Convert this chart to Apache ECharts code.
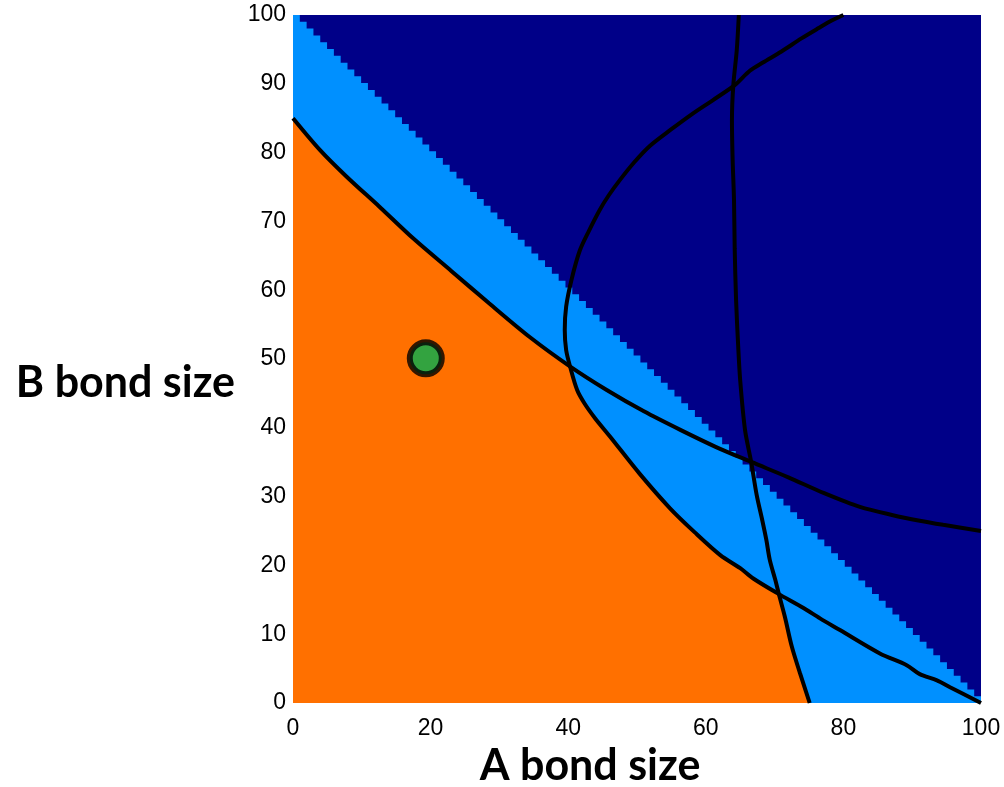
<!DOCTYPE html>
<html>
<head>
<meta charset="utf-8">
<script src="https://cdn.jsdelivr.net/npm/echarts@6/dist/echarts.min.js"></script>
<style>
  html, body { margin: 0; padding: 0; background: #ffffff; }
  #chart { width: 1004px; height: 787px; }
</style>
</head>
<body>
<div id="chart"></div>
<script>
// Tick labels on each axis
const xTicks = [0, 20, 40, 60, 80, 100];
const yTicks = [0, 10, 20, 30, 40, 50, 60, 70, 80, 90, 100];

// Highest light-blue row in each of the 101 grid columns
const blueTop = [
  100, 99, 98, 97, 96, 95, 94, 93, 92, 91,
  90, 89, 88, 87, 86, 85, 84, 83, 82, 81,
  80, 79, 78, 77, 76, 75, 74, 73, 72, 71,
  70, 69, 68, 67, 66, 65, 64, 63, 62, 61,
  60, 59, 58, 57, 56, 55, 54, 53, 52, 51,
  50, 49, 48, 47, 46, 45, 44, 43, 42, 41,
  40, 39, 38, 37, 36, 35, 34, 33, 32, 31,
  30, 29, 28, 27, 26, 25, 24, 23, 22, 21,
  20, 19, 18, 17, 16, 15, 14, 13, 12, 11,
  10, 9, 8, 7, 6, 5, 4, 3, 2, 1,
  0
];

// Boundary curves (A bond size, B bond size)
const curveL1 = [
  [0, 85.0], [3.9, 80.4], [7.8, 76.5], [12.6, 72.1], [17.5, 67.5], [23, 62.8],
  [28.5, 58.1], [34.4, 53.2], [40.3, 48.9], [45.6, 45.5], [51, 42.4], [56.3, 39.7],
  [61.5, 37.2], [66.7, 35.0], [72, 32.8], [77.2, 30.5], [82.4, 28.5], [87.2, 27.3],
  [91.1, 26.5], [94.5, 25.9], [100, 25.0]
];
const curveB = [
  [80.0, 100], [78.3, 99.2], [76.4, 98.1], [73.9, 96.6], [71.0, 94.7], [68.3, 93.1],
  [66.4, 91.9], [64.2, 89.8], [61.0, 87.6], [58.0, 85.6], [55.0, 83.4], [51.9, 81.0],
  [49.6, 78.6], [47.5, 76.0], [45.9, 73.8], [44.6, 71.7], [43.0, 68.6], [41.7, 65.8],
  [40.5, 61.6], [39.7, 57.6], [39.5, 54.2], [39.7, 51.3], [40.3, 48.8], [41.3, 45.5],
  [42.4, 43.5], [43.9, 41.4], [46.1, 38.7], [50.4, 33.3], [54.8, 28.3], [58.4, 24.8],
  [62.1, 21.5], [65.0, 19.6], [66.9, 18.1], [70.5, 15.9], [74.2, 13.8],
  [76.6, 12.3], [79.5, 10.6], [85.3, 7.2], [89.2, 5.5], [91.1, 4.2], [93.6, 3.3],
  [95.5, 2.3], [100, 0]
];
const curveC = [
  [64.8, 100], [64.5, 94.9], [64.0, 89.8], [63.8, 84.7], [63.9, 79.0], [64.1, 73.1],
  [64.2, 66.0], [64.4, 58.6], [64.7, 52.0], [65.0, 46.9], [65.7, 39.7], [66.6, 35.0],
  [67.4, 30.2], [68.2, 26.6], [68.8, 23.7], [69.3, 20.8], [70.1, 17.9], [70.6, 15.9],
  [71.5, 12.5], [72.5, 8.2], [73.7, 4.3], [75.1, 0]
];

// Marked design point (A, B)
const marker = [[19.3, 50.1]];

// Orange region: below L1 up to its crossing with B, then below B's lower
// branch up to its crossing with C, then left of C down to the A axis.
const crossL1B = 40.3;
const crossBC = 70.5;
const orangeEdge = [].concat(
  curveL1.filter(p => p[0] < crossL1B),
  curveB.filter(p => p[1] <= 48.8 && p[0] <= crossBC),
  curveC.filter(p => p[1] < 15.9)
);

// Light-blue cells: staircase on the 101 x 101 grid
const lightBlueData = blueTop.map((t, k) => [k, t + 1]);
lightBlueData.push([101, blueTop[blueTop.length - 1] + 1]);

const labelFont = { color: '#000', fontFamily: 'Liberation Sans, Arial, sans-serif', fontSize: 23 };

const chart = echarts.init(document.getElementById('chart'), null, { renderer: 'canvas' });

function curve(data) {
  return {
    type: 'line', data: data, symbol: 'none', smooth: 0.3, z: 5,
    lineStyle: { color: '#000000', width: 4 }, silent: true
  };
}

chart.setOption({
  animation: false,
  grid: {
    left: 293, top: 15, width: 688, height: 688,
    show: true, backgroundColor: '#000088', borderWidth: 0
  },
  xAxis: [
    {
      type: 'value', min: 0, max: 100,
      axisLine: { show: false }, axisTick: { show: false }, splitLine: { show: false },
      axisLabel: Object.assign({ customValues: xTicks, margin: 14 }, labelFont)
    },
    { type: 'value', min: 0, max: 101, show: false }
  ],
  yAxis: [
    {
      type: 'value', min: 0, max: 100,
      axisLine: { show: false }, axisTick: { show: false }, splitLine: { show: false },
      axisLabel: Object.assign({ customValues: yTicks, margin: 7, padding: [4, 0, 0, 0] }, labelFont)
    },
    { type: 'value', min: 0, max: 101, show: false }
  ],
  graphic: [
    {
      type: 'text', x: 235, y: 383,
      style: { text: 'B bond size', font: 'bold 43px Lato, sans-serif', fill: '#000', align: 'right', verticalAlign: 'middle' }
    },
    {
      type: 'text', x: 590, y: 766,
      style: { text: 'A bond size', font: 'bold 43px Lato, sans-serif', fill: '#000', align: 'center', verticalAlign: 'middle' }
    }
  ],
  series: [
    {
      type: 'line', data: lightBlueData, xAxisIndex: 1, yAxisIndex: 1,
      step: 'end', symbol: 'none', z: 2,
      lineStyle: { width: 0 }, areaStyle: { color: '#0090FF', opacity: 1, origin: 'start' }, silent: true
    },
    {
      type: 'line', data: orangeEdge, symbol: 'none', smooth: 0.3, z: 3,
      lineStyle: { width: 0 }, areaStyle: { color: '#FF7000', opacity: 1, origin: 'start' }, silent: true
    },
    curve(curveL1),
    curve(curveB),
    curve(curveC),
    {
      type: 'scatter', data: marker, symbol: 'circle', symbolSize: 32, z: 6,
      itemStyle: { color: '#00B050', borderColor: '#000000', borderWidth: 6 }, silent: true
    }
  ]
});
</script>
</body>
</html>
